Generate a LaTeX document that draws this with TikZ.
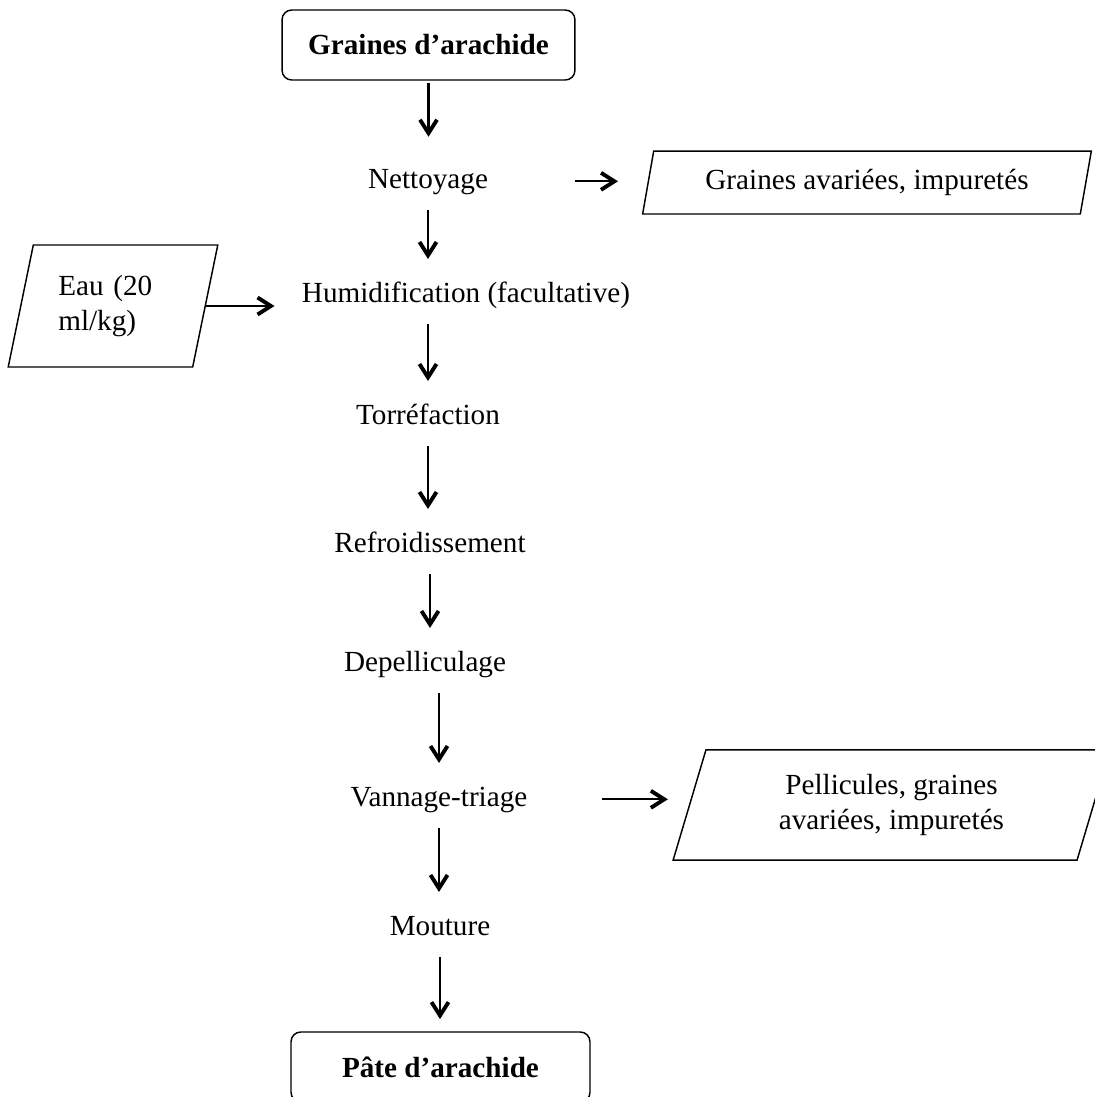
\documentclass[tikz,border=0pt]{standalone}
\usepackage{fontspec}
\setmainfont{Liberation Serif}
\usepackage{tikz}
\usetikzlibrary{arrows.meta,shapes.geometric}

\tikzset{
  stage/.style={inner sep=0pt, text height=8.5pt, text depth=3pt, anchor=base},
  endbox/.style={draw, rounded corners=4pt, line width=0.6pt, minimum height=28.8pt,
    font=\fontsize{12pt}{14.5pt}\selectfont\bfseries},
  sidebox/.style={draw, trapezium, trapezium stretches=true, line width=0.6pt, inner sep=2pt},
  flow/.style={-{Straight Barb[length=5.5pt,width=7pt,line width=1.6pt]}, line width=0.9pt,
    shorten <=6pt, shorten >=9pt}
}

\begin{document}
\begin{tikzpicture}[x=0.4114pt, y=-0.4114pt, font=\fontsize{12pt}{14.5pt}\selectfont]
\useasboundingbox (0,0) rectangle (1095,1097);

% main line
\node[endbox, minimum width=120.5pt] (seeds) at (428.5,45) {Graines d’arachide};
\node[stage] (clean) at (428,188) {Nettoyage};
\node[stage] (wet) at (466,302) {Humidification (facultative)};
\node[stage] (roast) at (428,424) {Torréfaction};
\node[stage] (cool) at (430,552) {Refroidissement};
\node[stage] (peel) at (425,671) {Depelliculage};
\node[stage] (winnow) at (439,806) {Vannage-triage};
\node[stage] (grind) at (440,935) {Mouture};
\node[endbox, minimum width=123pt] (paste) at (440.5,1067) {Pâte d’arachide};

% inputs and outputs
\node[sidebox, minimum width=185pt, minimum height=25.9pt,
  trapezium left angle=76.6, trapezium right angle=103.4] (waste) at (867,182.5)
  {Graines avariées, impuretés};
\node[sidebox, minimum width=86.4pt, minimum height=50.2pt, text width=45pt, align=left,
  trapezium left angle=75.3, trapezium right angle=104.7] (water) at (113,306)
  {Eau (20\\ml/kg)};
\node[sidebox, minimum width=179.8pt, minimum height=45.3pt, align=center,
  trapezium left angle=73.8, trapezium right angle=106.2] (husks) at (891.5,805)
  {Pellicules, graines\\avariées, impuretés};

% arrows
\draw[flow, shorten <=1pt, shorten >=12.4pt] (seeds.south) -- (seeds.south |- clean.north);
\draw[flow] (clean.south) -- (clean.south |- wet.north);
\draw[flow] (roast.north |- wet.south) -- (roast.north);
\draw[flow] (roast.south) -- (roast.south |- cool.north);
\draw[flow] (cool.south) -- (cool.south |- peel.north);
\draw[flow] (winnow.north |- peel.south) -- (winnow.north);
\draw[flow] (winnow.south) -- (winnow.south |- grind.north);
\draw[flow, shorten >=5pt] (grind.south) -- (grind.south |- paste.north);

\draw[flow, shorten <=35.8pt, shorten >=12.1pt] (clean.east) -- (clean.east -| waste.west);
\draw[flow, shorten <=0pt, shorten >=11.1pt] (water.east) -- (water.east -| wet.west);
\draw[flow, shorten <=30.4pt, shorten >=8.6pt] (winnow.east) -- (winnow.east -| husks.west);
\end{tikzpicture}
\end{document}
